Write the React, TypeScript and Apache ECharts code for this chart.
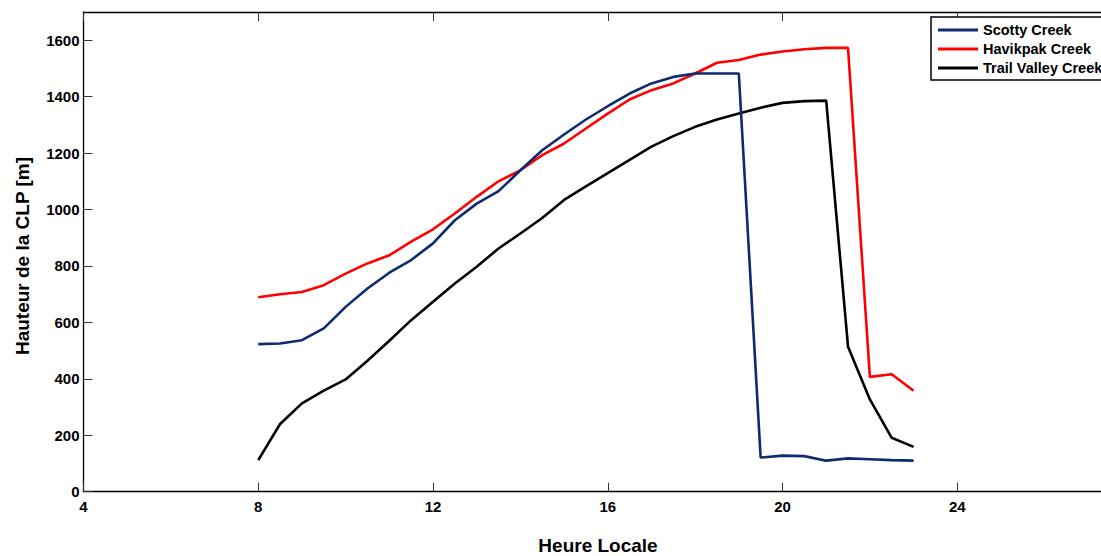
import React, { useEffect, useRef } from "react";
import * as echarts from "echarts";

const hours = [8, 8.5, 9, 9.5, 10, 10.5, 11, 11.5, 12, 12.5, 13, 13.5, 14, 14.5, 15, 15.5, 16, 16.5, 17, 17.5, 18, 18.5, 19, 19.5, 20, 20.5, 21, 21.5, 22, 22.5, 23];
const scottyCreek = [523, 525, 537, 579, 655, 720, 776, 821, 880, 962, 1021, 1065, 1139, 1210, 1266, 1319, 1366, 1411, 1447, 1470, 1482, 1482, 1482, 121, 128, 126, 110, 118, 115, 112, 110];
const havikpakCreek = [689, 700, 708, 732, 773, 809, 838, 886, 930, 986, 1045, 1100, 1139, 1193, 1234, 1287, 1340, 1390, 1423, 1447, 1482, 1520, 1530, 1549, 1560, 1568, 1573, 1573, 407, 416, 358];
const trailValleyCreek = [112, 240, 313, 358, 398, 464, 535, 608, 673, 738, 797, 862, 915, 970, 1034, 1082, 1129, 1176, 1223, 1260, 1293, 1319, 1340, 1361, 1378, 1384, 1386, 514, 327, 191, 159];
const seriesNames = ["Scotty Creek", "Havikpak Creek", "Trail Valley Creek"];
const seriesColors = ["#0d2b6e", "#ff0000", "#000000"];
const xTitle = "Heure Locale";
const yTitle = "Hauteur de la CLP [m]";

const FONT = "'Liberation Sans', Arial, Helvetica, sans-serif";

export default function App() {
  const ref = useRef<HTMLDivElement>(null);
  useEffect(() => {
    if (!ref.current) return;
    const chart = echarts.init(ref.current, undefined, { renderer: "svg" });
    const pair = (ys: number[]) => hours.map((h, i) => [h, ys[i]]);
    const allData = [scottyCreek, havikpakCreek, trailValleyCreek];
    const axisLine = { show: true, onZero: false, lineStyle: { color: "#000", width: 1.3 } };
    const axisTick = { show: true, inside: true, length: 9, lineStyle: { color: "#333", width: 1 } };
    chart.setOption({
      animation: false,
      backgroundColor: "#fff",
      grid: { left: 83.5, top: 12, right: 28, bottom: 64.3, containLabel: false },
      legend: {
        show: true,
        orient: "vertical",
        left: 931,
        top: 17,
        icon: "rect",
        itemWidth: 40,
        itemHeight: 3,
        itemGap: 3,
        padding: [5, 20, 4, 7],
        borderColor: "#000",
        borderWidth: 1.5,
        backgroundColor: "#fff",
        textStyle: { fontFamily: FONT, fontWeight: "bold", fontSize: 14.5, color: "#000", lineHeight: 16 },
        data: seriesNames,
      },
      xAxis: [
        {
          type: "value",
          min: 4,
          max: 28,
          interval: 4,
          position: "bottom",
          axisLine,
          axisTick,
          splitLine: { show: false },
          axisLabel: { fontFamily: FONT, fontWeight: "bold", fontSize: 15, color: "#000", margin: 7, showMaxLabel: false, formatter: (v: number) => String(v) },
        },
        {
          type: "value",
          min: 4,
          max: 28,
          interval: 4,
          position: "top",
          axisLine,
          axisTick,
          splitLine: { show: false },
          axisLabel: { show: false },
        },
      ],
      yAxis: [
        {
          type: "value",
          min: 0,
          max: 1700,
          interval: 200,
          position: "left",
          axisLine,
          axisTick,
          splitLine: { show: false },
          axisLabel: { fontFamily: FONT, fontWeight: "bold", fontSize: 15, color: "#000", margin: 4, showMaxLabel: false, formatter: (v: number) => String(v) },
        },
        {
          type: "value",
          min: 0,
          max: 1700,
          interval: 200,
          position: "right",
          axisLine,
          axisTick,
          splitLine: { show: false },
          axisLabel: { show: false },
        },
      ],
      series: seriesNames.map((name, i) => ({
        name,
        type: "line",
        data: pair(allData[i]),
        showSymbol: false,
        symbol: "none",
        color: seriesColors[i],
        lineStyle: { color: seriesColors[i], width: 2.6 },
        xAxisIndex: 0,
        yAxisIndex: 0,
        z: 3 - i,
      })),
      graphic: [
        {
          type: "text",
          x: 598,
          y: 545,
          style: { text: xTitle, fontFamily: FONT, fontWeight: "bold", fontSize: 19, fill: "#000", align: "center", verticalAlign: "middle" },
        },
        {
          type: "text",
          x: 22,
          y: 256,
          rotation: Math.PI / 2,
          style: { text: yTitle, fontFamily: FONT, fontWeight: "bold", fontSize: 19, fill: "#000", align: "center", verticalAlign: "middle" },
        },
      ],
    });
    return () => chart.dispose();
  }, []);
  return (
    <div style={{ position: "fixed", left: 0, top: 0, width: 1101, height: 556, overflow: "hidden", background: "#fff" }}>
      <div ref={ref} style={{ width: 1160, height: 556 }} />
    </div>
  );
}
